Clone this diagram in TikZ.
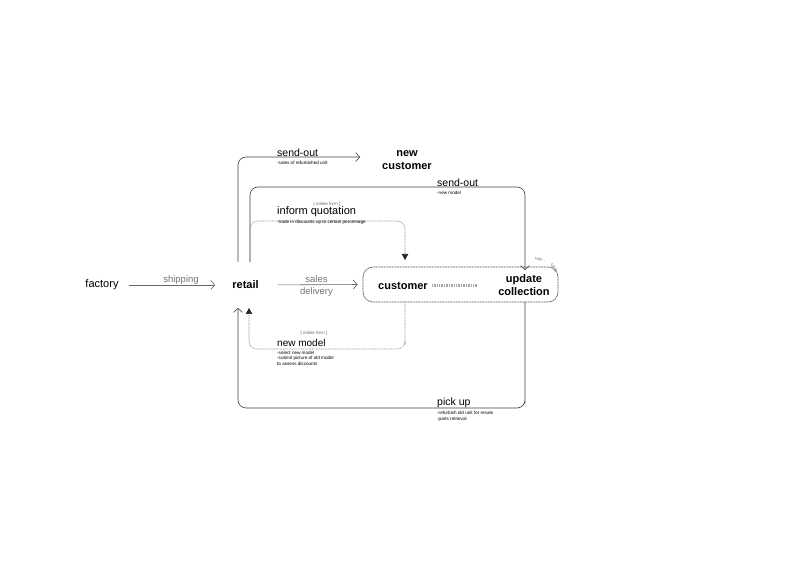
\documentclass[tikz,border=0pt]{standalone}
\usepackage{fontspec}
\setmainfont{Liberation Sans}
\usetikzlibrary{arrows.meta}
\tikzset{
  lab/.style={inner sep=0pt, font=\fontsize{11}{12}\selectfont},
  bold/.style={inner sep=0pt, font=\fontsize{11}{13}\selectfont\bfseries, align=center},
  glab/.style={inner sep=0pt, text=black!55, font=\fontsize{9.5}{11}\selectfont},
  tiny/.style={inner sep=0pt, anchor=north west, align=left, font=\fontsize{4.6}{5.6}\selectfont},
  tag/.style={inner sep=0pt, text=black!60, font=\fontsize{4.4}{5}\selectfont},
  openarr/.style={-{Straight Barb[length=4pt,width=9pt,line width=0.6pt]}},
  filledarr/.style={-{Triangle[length=6pt,width=6.5pt,color=black!85]}},
  solidflow/.style={draw=black!75, line width=0.6pt, rounded corners=8pt},
  dotflow/.style={draw=black!45, line width=0.6pt, dash pattern=on 1pt off 0.8pt, rounded corners=8pt},
  grayflow/.style={draw=black!60, line width=0.6pt},
}
\begin{document}
\begin{tikzpicture}[x=1pt,y=-1pt]
\useasboundingbox (0,0) rectangle (804,569);

% main nodes
\node[lab] (factory) at (102,285) {factory};
\node[bold] (retail) at (245.5,285) {retail};
\node[draw=black!70, line width=0.7pt, dash pattern=on 1pt off 0.6pt, rounded corners=10pt,
      minimum width=195pt, minimum height=35pt, inner sep=0pt] (box) at (460.5,284.5) {};
\node[bold] (cust) at (403,286) {customer};
\node[bold] (upd) at (524,285) {update\\collection};
\node[bold] (newcust) at (407,160) {new\\customer};

% barcode between customer and update collection
\coordinate (bc1) at (432,286);
\coordinate (bc2) at (477,286);
\draw[black!35, line width=3pt, dash pattern=on 1pt off 0.7pt] (bc1) -- (bc2);

% use - cycle tag
\node[tag, rotate=-14] (tag1) at (540,259.5) {use -};
\node[tag, rotate=-62] (tag2) at (554,268) {cycle};

% coordinates at retail and box
\coordinate (r1) at (238,262);
\coordinate (r2) at (250,262);
\coordinate (r3) at (249,308);
\coordinate (r4) at (238,308);
\coordinate (nc) at (360,157);
\coordinate (ctop) at (525,187);
\coordinate (uin) at (525,270);
\coordinate (qcorner) at (405,221);
\coordinate (cin) at (405,260);
\coordinate (cout) at (405,302);
\coordinate (mcorner) at (405,349);
\coordinate (uout) at (525,302);
\coordinate (pcorner) at (525,408);

% shipping / sales
\draw[grayflow, openarr, shorten <=10pt, shorten >=17pt] (factory.east) -- (retail.west);
\node[glab] (ship) at (181,280) {shipping};
\draw[grayflow, openarr, shorten <=19pt, shorten >=5pt] (retail.east) -- (box.west);
\node[glab] (sales) at (316.5,279) {sales};
\node[glab] (deliv) at (316.5,292) {delivery};

% send-out 1
\draw[solidflow, openarr] (r1) |- (nc);
\node[lab, anchor=west, font=\fontsize{10.5}{12}\selectfont] (so1) at (277,153) {send-out};
\node[tiny] (so1t) at (277,161) {-sales of refurbished unit};

% send-out 2
\draw[solidflow, openarr] (r2) |- (ctop) -- (uin);
\node[lab, anchor=west, font=\fontsize{10.5}{12}\selectfont] (so2) at (437,183) {send-out};
\node[tiny] (so2t) at (437,191) {-new model};

% inform quotation
\draw[dotflow, filledarr] (r2) |- (qcorner) -- (cin);
\node[tag] (of1) at (327,204) {[ online form ]};
\node[lab, anchor=west, font=\fontsize{11}{12}\selectfont] (iq) at (277,212) {inform quotation};
\node[tiny] (iqt) at (277,220) {-trade in discounts up to certain percentage};

% new model
\draw[dotflow, filledarr] (cout) |- (mcorner) -| (r3);
\node[tag] (of2) at (314,333) {[ online form ]};
\node[lab, anchor=west, font=\fontsize{10}{12}\selectfont] (nm) at (277,343) {new model};
\node[tiny] (nmt) at (277,350.5) {-select new model\\-submit picture of old model\\to assess discounts};

% pick up
\draw[solidflow, openarr] (uout) |- (pcorner) -| (r4);
\node[lab, anchor=west, font=\fontsize{10.5}{12}\selectfont] (pu) at (437,403) {pick up};
\node[tiny] (put) at (437,411) {-refurbish old unit for resale\\-parts retrieval};
\end{tikzpicture}
\end{document}
